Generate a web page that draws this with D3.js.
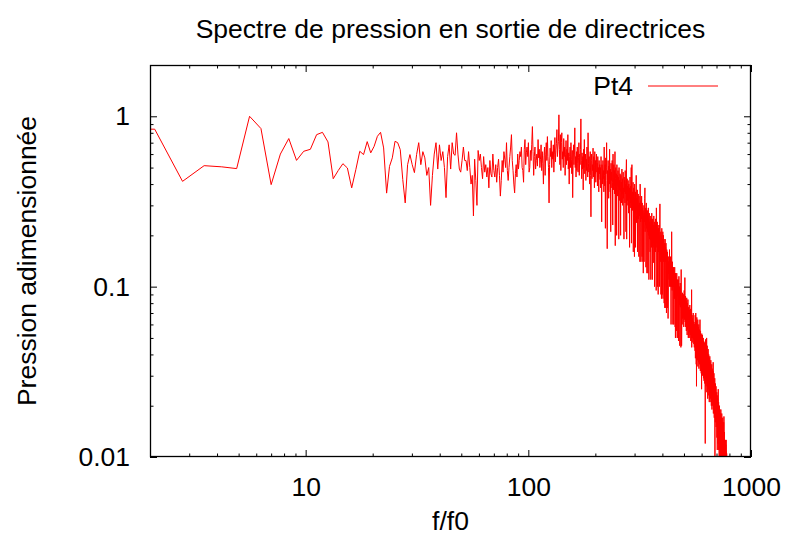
<!DOCTYPE html>
<html lang="fr">
<head>
<meta charset="utf-8">
<script src="https://cdn.jsdelivr.net/npm/d3@7"></script>
<style>
body{margin:0;background:#fff}
svg text{font-family:"Liberation Sans",Arial,Helvetica,sans-serif;fill:#000}
</style>
</head>
<body>
<div id="drawarea"></div>
<script>
// spectre Pt4 : une valeur par raie, raies espacees de fStep (en f/f0), premiere raie = kStart
const fStep=0.7
const kStart=2
const pt4Low=[0.84,0.84,0.415,0.513,0.505,0.493,1.0,0.847,
0.397,0.60,0.74,0.551,0.623,0.64,0.78,0.805,0.707,0.43,
0.48,0.527,0.497,0.38,0.486,0.623,0.596,0.71,0.61,0.666,
0.763,0.805,0.652,0.354,0.508,0.57,0.713,0.70,0.637,0.425,
0.31,0.52,0.596,0.52,0.467,0.596,0.70,0.52,0.62,0.57,
0.45,0.50,0.30,0.45,0.60,0.70,0.49,0.68,0.55,0.62,
0.50,0.333,0.58,0.68,0.49,0.70,0.60,0.59,0.80,0.60,
0.49,0.47,0.55,0.66,0.55,0.55,0.48,0.62,0.50,0.40,
0.45,0.26,0.56,0.42,0.30,0.63,0.55,0.60,0.50,0.43,
0.58,0.47,0.52,0.44,0.50,0.38,0.55,0.46,0.44,0.60]
const pt4Mid=[0.48,0.44,0.52,0.41,0.50,0.56,0.45,0.34,0.42,0.55,
0.47,0.62,0.56,0.50,0.70,0.48,0.42,0.50,0.58,0.66,
0.78,0.55,0.48,0.40,0.355,0.46,0.52,0.44,0.60,0.49,
0.55,0.62,0.58,0.66,0.50,0.48,0.41,0.64,0.73,0.52,
0.61,0.66,0.58,0.70,0.47,0.50,0.63,0.55,0.68,0.87,
0.62,0.45,0.58,0.66,0.49,0.55,0.60,0.51,0.73,0.57,
0.64,0.50,0.56,0.68,0.48,0.62,0.53,0.40,0.59,0.66,
0.45,0.60,0.70,0.55,0.76,0.58,0.50,0.31,0.52,0.65,
0.58,0.72,0.50,0.62,0.56,0.68,0.47,0.60,0.75,0.54,
0.63,0.69,0.835,0.58,0.66,0.71,1.02,0.64,0.52,0.78,
0.48,0.70,0.80,0.56,0.62,0.50,0.74,0.58,0.66,0.45,
0.60,0.72,0.52,0.64,0.55,0.78,0.49,0.61,0.40,0.58,
0.66,0.50,0.70,0.56,0.46,0.63,0.333,0.54,0.68,0.52,
0.60,0.855,0.50,0.58,0.44,0.62,0.48,0.66,0.53,0.47,
0.57,0.70,0.45,0.60,0.52,0.64,0.965,0.55,0.43,0.61,
0.49,0.58,0.37,0.64,0.50,0.73,0.46,0.55,0.60,0.42,
0.56,0.48,0.66,0.51,0.44,0.80,0.53,0.47,0.58,0.40,
0.50,0.62,0.45,0.257,0.55,0.60,0.43,0.52,0.48,0.65,
0.44,0.58,0.50,0.38,0.62,0.46,0.55,0.41,0.52,0.60,
0.47,0.53,0.39,0.58,0.44,0.50,0.36,0.55,0.46,0.52,
0.425,0.50,0.38,0.58,0.44,0.24,0.52,0.47,0.40,0.55,
0.43,0.48,0.36,0.66,0.45,0.39,0.52,0.22,0.57,0.46,
0.50,0.70,0.42,0.167,0.48,0.37,0.55,0.44,0.33,0.51,
0.40,0.64,0.45,0.36,0.49,0.21,0.53,0.42,0.47,0.38,
0.55,0.41,0.23,0.60,0.44,0.37,0.52,0.39,0.48,0.35,
0.62,0.174,0.43,0.50,0.36,0.46,0.20,0.52,0.40,0.45,
0.34,0.48,0.39,0.44,0.19,0.50,0.37,0.42,0.32,0.46,
0.38,0.20,0.45,0.36,0.41,0.31,0.49,0.35,0.43,0.30,
0.40,0.47,0.33,0.38,0.19,0.44,0.36,0.42,0.31,0.48,
0.35,0.40,0.21,0.46,0.557,0.19,0.37,0.43,0.32,0.39,
0.30,0.42,0.35,0.27,0.40,0.33,0.38,0.17,0.36,0.44,
0.29,0.34,0.39,0.31,0.50,0.18,0.37,0.52,0.32,0.28,
0.36,0.30,0.41,0.16,0.34,0.38,0.29,0.33,0.15,0.40,
0.31,0.27,0.36,0.17,0.35,0.30,0.45,0.26,0.237,0.33,
0.28,0.37,0.16,0.32,0.27,0.35,0.25,0.30,0.15,0.34,
0.26,0.31,0.29,0.14,0.40,0.28,0.24,0.32,0.14,0.30,
0.25,0.34,0.27,0.15,0.31,0.24,0.29,0.14,0.28,0.12,
0.26,0.22,0.30,0.14,0.27,0.24,0.33,0.38,0.21,0.26,
0.23,0.29,0.13,0.25,0.31,0.22,0.27,0.12,0.24,0.28,
0.21,0.26,0.12,0.24,0.29,0.20,0.25,0.11,0.23,0.27]
const pt4High=[0.19,0.24,0.21,0.16,0.26,0.20,0.23,0.11,0.25,0.19,
0.22,0.17,0.27,0.20,0.24,0.11,0.21,0.25,0.18,0.23,
0.138,0.22,0.19,0.26,0.17,0.21,0.24,0.10,0.20,0.23,
0.18,0.22,0.16,0.25,0.19,0.21,0.095,0.29,0.18,0.22,
0.17,0.20,0.24,0.10,0.21,0.18,0.23,0.09,0.19,0.22,
0.16,0.20,0.18,0.23,0.10,0.19,0.21,0.306,0.17,0.14,
0.19,0.16,0.21,0.09,0.18,0.20,0.085,0.17,0.22,0.15,
0.18,0.09,0.19,0.16,0.21,0.085,0.17,0.15,0.20,0.14,
0.16,0.19,0.08,0.17,0.15,0.18,0.075,0.16,0.19,0.14,
0.15,0.17,0.075,0.18,0.14,0.16,0.07,0.15,0.165,0.13,
0.14,0.12,0.16,0.075,0.13,0.15,0.065,0.078,0.14,0.12,
0.13,0.15,0.11,0.14,0.12,0.165,0.10,0.13,0.11,0.14,
0.12,0.10,0.15,0.11,0.13,0.06,0.14,0.12,0.10,0.21,
0.11,0.13,0.095,0.12,0.14,0.10,0.12,0.06,0.13,0.11,
0.12,0.10,0.13,0.06,0.115,0.10,0.12,0.085,0.11,0.13,
0.10,0.12,0.058,0.11,0.05,0.12,0.10,0.115,0.088,0.105,
0.095,0.11,0.055,0.12,0.09,0.10,0.05,0.11,0.095,0.10,
0.088,0.105,0.05,0.11,0.092,0.048,0.10,0.087,0.115,0.082,
0.095,0.078,0.10,0.085,0.045,0.098,0.082,0.105,0.076,0.09,
0.08,0.095,0.044,0.088,0.126,0.075,0.085,0.045,0.056,0.082,
0.09,0.072,0.085,0.065,0.092,0.078,0.06,0.088,0.07,0.082,
0.066,0.09,0.075,0.058,0.084,0.07,0.095,0.064,0.079,0.068,
0.086,0.113,0.072,0.062,0.08,0.066,0.088,0.058,0.076,0.07,
0.064,0.082,0.055,0.074,0.068,0.086,0.06,0.078,0.052,0.07,
0.08,0.062,0.072,0.056,0.084,0.066,0.075,0.05,0.07,0.064,
0.058,0.076,0.062,0.07,0.05,0.073,0.06,0.067,0.054,0.078,
0.062,0.07,0.052,0.065,0.058,0.074,0.048,0.066,0.06,0.069,
0.055,0.064,0.05,0.096,0.044,0.062,0.057,0.068,0.05,0.06,
0.065,0.052,0.058,0.047,0.063,0.055,0.07,0.049,0.06,0.053,
0.058,0.046,0.062,0.051,0.056,0.044,0.06,0.05,0.055,0.048,
0.06,0.042,0.068,0.05,0.038,0.062,0.046,0.07,0.04,0.057,
0.048,0.035,0.063,0.026,0.055,0.044,0.066,0.039,0.052,0.045,
0.06,0.037,0.05,0.043,0.064,0.034,0.055,0.041,0.047,0.058,
0.036,0.052,0.044,0.06,0.033,0.049,0.04,0.056,0.038,0.046,
0.054,0.035,0.048,0.064,0.037,0.05,0.032,0.045,0.055,0.039,
0.047,0.034,0.052,0.04,0.031,0.049,0.043,0.025,0.046,0.053,
0.036,0.048,0.031,0.044,0.052,0.035,0.041,0.03,0.047,0.039,
0.045,0.032,0.05,0.037,0.029,0.043,0.048,0.034,0.04,0.028,
0.044,0.036,0.03,0.047,0.033,0.041,0.027,0.045,0.038,0.032,
0.012,0.04,0.034,0.049,0.029,0.042,0.036,0.026,0.044,0.031,
0.035,0.042,0.028,0.05,0.033,0.024,0.039,0.03,0.045,0.027,
0.036,0.029,0.041,0.022,0.034,0.038,0.026,0.043,0.031,0.025,
0.037,0.028,0.033,0.04,0.023,0.035,0.029,0.038,0.021,0.032,
0.0216,0.034,0.027,0.039,0.025,0.031,0.036,0.022,0.033,0.028,
0.035,0.024,0.03,0.037,0.021,0.032,0.026,0.034,0.02,0.029,
0.031,0.023,0.035,0.027,0.019,0.03,0.025,0.033,0.022,0.028,
0.024,0.03,0.02,0.027,0.032,0.021,0.036,0.025,0.018,0.029,
0.026,0.019,0.028,0.023,0.031,0.02,0.025,0.017,0.027,0.022,
0.024,0.018,0.029,0.021,0.0095,0.026,0.02,0.023,0.016,0.027,
0.021,0.025,0.017,0.023,0.019,0.026,0.015,0.022,0.02,0.018,
0.022,0.016,0.019,0.024,0.013,0.02,0.017,0.023,0.011,0.019,
0.021,0.014,0.018,0.022,0.012,0.02,0.016,0.019,0.025,0.013,
0.018,0.015,0.021,0.011,0.017,0.02,0.013,0.019,0.009,0.016,
0.02,0.012,0.017,0.015,0.019,0.0095,0.016,0.018,0.011,0.014,
0.018,0.012,0.016,0.0085,0.017,0.013,0.019,0.01,0.015,0.014,
0.017,0.011,0.015,0.009,0.016,0.012,0.018,0.0098,0.014,0.013,
0.015,0.0088,0.016,0.011,0.014,0.0092,0.017,0.012,0.0095,0.015,
0.013,0.009,0.015,0.011,0.0085,0.014,0.01,0.016,0.0087,0.012,
0.0173,0.0095,0.013,0.008,0.012,0.0105,0.014,0.0082,0.011,0.0125,
0.0098,0.012,0.0078,0.0115,0.009,0.0126,0.0085,0.011,0.0072,0.0105,
0.0092,0.0118,0.0075,0.0108,0.0082,0.0126,0.0078,0.0102,0.007,0.0095,
0.0085,0.0105,0.0068,0.009,0.0075,0.0098,0.0065,0.0088,0.0072,0.0082,
0.0078,0.007,0.0085,0.0062,0.0075,0.0068,0.0072,0.006,0.0066,0.0058]

const xMajor=[10,100,1000]
const xMinor=[2,3,4,5,6,7,8,9,20,30,40,50,60,70,80,90,200,300,400,500,600,700,800,900]
const yMajor=[0.01,0.1,1]
const yMinor=[0.02,0.03,0.04,0.05,0.06,0.07,0.08,0.09,0.2,0.3,0.4,0.5,0.6,0.7,0.8,0.9,2]

const W=788,H=537
const m={left:150,right:751,top:65,bottom:457}
const fontFam='"Liberation Sans",Arial,Helvetica,sans-serif'
const fs=26.5

const svg=d3.select("#drawarea").append("svg").attr("width",W).attr("height",H)
svg.append("rect").attr("width",W).attr("height",H).attr("fill","#fff")

const x=d3.scaleLog().domain([2,1000]).range([m.left,m.right])
const y=d3.scaleLog().domain([0.01,2]).range([m.bottom,m.top])
const fmt=d3.format("~g")

const pts=pt4Low.concat(pt4Mid,pt4High).map((p,i)=>({f:(kStart+i)*fStep,p:p}))

svg.append("clipPath").attr("id","clip").append("rect")
  .attr("x",m.left).attr("y",m.top).attr("width",m.right-m.left).attr("height",m.bottom-m.top)

//ticks inward on the four sides, labels only bottom / left
function addAxis(axis,tr,vals,len,labels){
  let g=svg.append("g").attr("transform",tr)
    .call(axis.tickValues(vals).tickSize(-len).tickPadding(labels?20:0).tickFormat(labels?fmt:""))
  g.attr("font-size",fs).attr("font-family",fontFam)
  g.select(".domain").remove()
  return g
}
addAxis(d3.axisBottom(x),`translate(0,${m.bottom})`,xMajor,7,true)
addAxis(d3.axisBottom(x),`translate(0,${m.bottom})`,xMinor,3.5,false)
addAxis(d3.axisTop(x),`translate(0,${m.top})`,xMajor,7,false)
addAxis(d3.axisTop(x),`translate(0,${m.top})`,xMinor,3.5,false)
addAxis(d3.axisLeft(y),`translate(${m.left},0)`,yMajor,7,true)
addAxis(d3.axisLeft(y),`translate(${m.left},0)`,yMinor,3.5,false)
addAxis(d3.axisRight(y),`translate(${m.right},0)`,yMajor,7,false)
addAxis(d3.axisRight(y),`translate(${m.right},0)`,yMinor,3.5,false)

const line=d3.line().x(d=>x(d.f)).y(d=>y(d.p))
svg.append("path").datum(pts).attr("d",line).attr("clip-path","url(#clip)")
  .attr("fill","none").attr("stroke","#ff0000").attr("stroke-width",1)

svg.append("rect").attr("x",m.left+0.5).attr("y",m.top+0.5)
  .attr("width",m.right-m.left-1).attr("height",m.bottom-m.top-1)
  .attr("fill","none").attr("stroke","#000").attr("stroke-width",1.3)

//titres
svg.append("text").attr("x",(m.left+m.right)/2).attr("y",38).attr("text-anchor","middle")
  .attr("font-size",fs).text("Spectre de pression en sortie de directrices")
svg.append("text").attr("x",(m.left+m.right)/2).attr("y",530).attr("text-anchor","middle")
  .attr("font-size",fs).text("f/f0")
svg.append("text").attr("transform",`translate(36,${(m.top+m.bottom)/2}) rotate(-90)`)
  .attr("text-anchor","middle").attr("font-size",fs).text("Pression adimensionnée")

//legende
svg.append("text").attr("x",633).attr("y",95).attr("text-anchor","end").attr("font-size",fs).text("Pt4")
svg.append("line").attr("x1",648).attr("x2",718).attr("y1",86).attr("y2",86)
  .attr("stroke","#ff0000").attr("stroke-width",1)
</script>
</body>
</html>
